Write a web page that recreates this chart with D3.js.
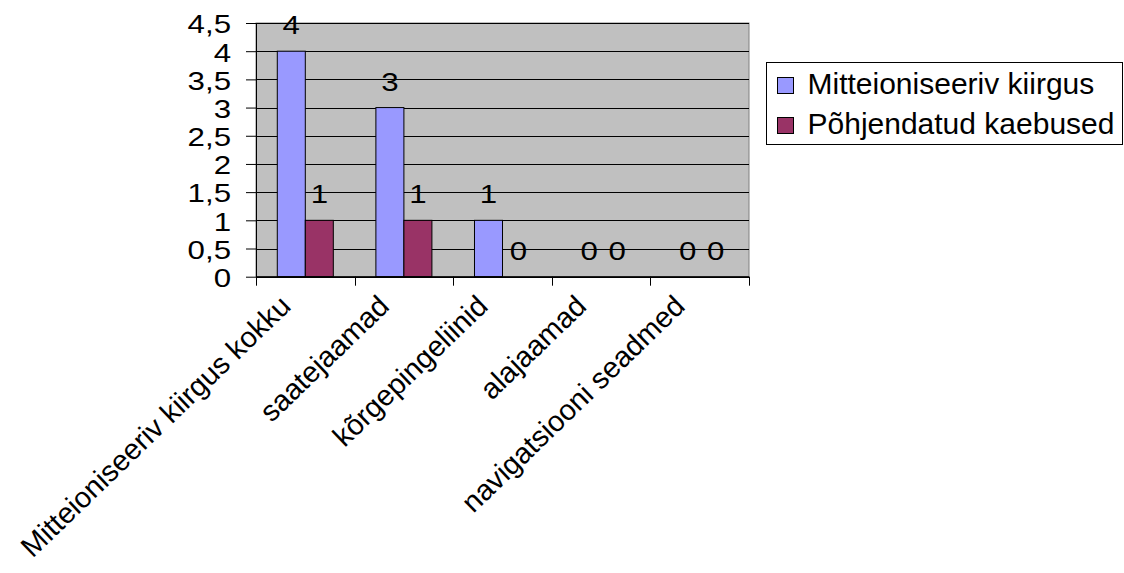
<!DOCTYPE html>
<html>
<head>
<meta charset="utf-8">
<script src="https://cdn.jsdelivr.net/npm/d3@7"></script>
<style>
  body { margin: 0; background: #fff; }
  text { font-family: "Liberation Sans", Arial, sans-serif; fill: #000; }
</style>
</head>
<body>
<div id="chart"></div>
<script>
'use strict'

//---------------------------Datos--------------------------------//
const categories = ['Mitteioniseeriv kiirgus kokku', 'saatejaamad', 'kõrgepingeliinid', 'alajaamad', 'navigatsiooni seadmed'];
const seriesNames = ['Mitteioniseeriv kiirgus', 'Põhjendatud kaebused'];
const mitteioniseeriv = [4, 3, 1, 0, 0];
const pohjendatud = [1, 1, 0, 0, 0];
const yTicks = [0, 0.5, 1, 1.5, 2, 2.5, 3, 3.5, 4, 4.5];
const colors = ['#9999ff', '#993366'];

const width = 1124, height = 573;
const plot = { left: 256, right: 749, top: 23, bottom: 276.7 };
const numScale = 1.25; // los numeros se ven mas anchos en el original

const svg = d3.select('#chart').append('svg')
  .attr('width', width)
  .attr('height', height);

// Escalas
const x = d3.scaleBand().domain(categories).range([plot.left, plot.right]).padding(0);
const xSub = d3.scaleBand().domain(seriesNames).range([0, x.bandwidth()])
  .paddingInner(0).paddingOuter(0.76);
const y = d3.scaleLinear().domain([0, 4.5]).range([plot.bottom, plot.top]);

// Fondo del area del grafico
svg.append('rect')
  .attr('x', plot.left)
  .attr('y', y(4.5))
  .attr('width', plot.right - plot.left)
  .attr('height', y(0) - y(4.5))
  .attr('fill', '#c0c0c0')
  .attr('stroke', '#808080')
  .attr('stroke-width', 1);

// Lineas de la cuadricula
svg.append('g')
  .selectAll('line')
  .data(yTicks)
  .join('line')
  .attr('x1', plot.left)
  .attr('x2', plot.right)
  .attr('y1', d => Math.round(y(d)) + 0.5)
  .attr('y2', d => Math.round(y(d)) + 0.5)
  .attr('stroke', '#000')
  .attr('stroke-width', 1);

// Barras
const rows = categories.map((c, i) => ({ cat: c, values: [mitteioniseeriv[i], pohjendatud[i]] }));

const groups = svg.append('g')
  .selectAll('g')
  .data(rows)
  .join('g')
  .attr('transform', d => 'translate(' + x(d.cat) + ',0)');

groups.selectAll('rect')
  .data(d => d.values.map((v, j) => ({ name: seriesNames[j], value: v, j: j })))
  .join('rect')
  .filter(d => d.value > 0)
  .attr('x', d => xSub(d.name))
  .attr('y', d => y(d.value))
  .attr('width', xSub.bandwidth())
  .attr('height', d => y(0) - y(d.value))
  .attr('fill', d => colors[d.j])
  .attr('stroke', '#000')
  .attr('stroke-width', 1);

// Etiquetas de datos
groups.selectAll('g.lbl')
  .data(d => d.values.map((v, j) => ({ name: seriesNames[j], value: v })))
  .join('g')
  .attr('class', 'lbl')
  .attr('transform', d => 'translate(' + (xSub(d.name) + xSub.bandwidth() / 2 + (d.value === 0 ? 2 : 0)) + ',' + (y(d.value) - 17) + ')')
  .append('text')
  .attr('text-anchor', 'middle')
  .attr('transform', 'scale(' + numScale + ',1)')
  .style('font-size', '25px')
  .text(d => d.value);

// Eje Y
const yAxis = svg.append('g')
  .attr('transform', 'translate(' + plot.left + ',0)')
  .call(d3.axisLeft(y).tickValues(yTicks).tickSize(10).tickSizeOuter(0)
    .tickFormat(d => String(d).replace('.', ',')));
yAxis.select('.domain').attr('stroke', '#000');
yAxis.selectAll('.tick line').attr('stroke', '#000');
yAxis.selectAll('.tick text')
  .attr('x', -25 / numScale)
  .attr('dy', null)
  .attr('y', 1)
  .attr('dominant-baseline', 'central')
  .attr('transform', 'scale(' + numScale + ',1)')
  .style('font-size', '25px')
  .attr('fill', '#000');

// Eje X
svg.append('line')
  .attr('x1', plot.left)
  .attr('x2', plot.right)
  .attr('y1', y(0))
  .attr('y2', y(0))
  .attr('stroke', '#000');

const bounds = categories.map(c => x(c)).concat([x.range()[1]]);
svg.append('g')
  .selectAll('line')
  .data(bounds)
  .join('line')
  .attr('x1', d => Math.round(d) + 0.5)
  .attr('x2', d => Math.round(d) + 0.5)
  .attr('y1', y(0))
  .attr('y2', y(0) + 9)
  .attr('stroke', '#000');

svg.append('g')
  .selectAll('text')
  .data(categories)
  .join('text')
  .attr('text-anchor', 'end')
  .attr('transform', d => 'translate(' + (x(d) + x.bandwidth() / 2 - 13) + ',308) rotate(-44)')
  .style('font-size', '29px')
  .text(d => d);

//---------------------------Leyenda--------------------------------//
const legend = svg.append('g').attr('transform', 'translate(766.5,62.5)');
legend.append('rect')
  .attr('width', 356)
  .attr('height', 82)
  .attr('fill', '#fff')
  .attr('stroke', '#000');

const items = legend.selectAll('g.item')
  .data(seriesNames)
  .join('g')
  .attr('class', 'item')
  .attr('transform', (d, i) => 'translate(0,' + (i * 40) + ')');

items.append('rect')
  .attr('x', 11)
  .attr('y', 15)
  .attr('width', 16)
  .attr('height', 16)
  .attr('fill', (d, i) => colors[i])
  .attr('stroke', '#000');

items.append('text')
  .attr('x', 41)
  .attr('y', 31)
  .style('font-size', '30px')
  .text(d => d);
</script>
</body>
</html>
